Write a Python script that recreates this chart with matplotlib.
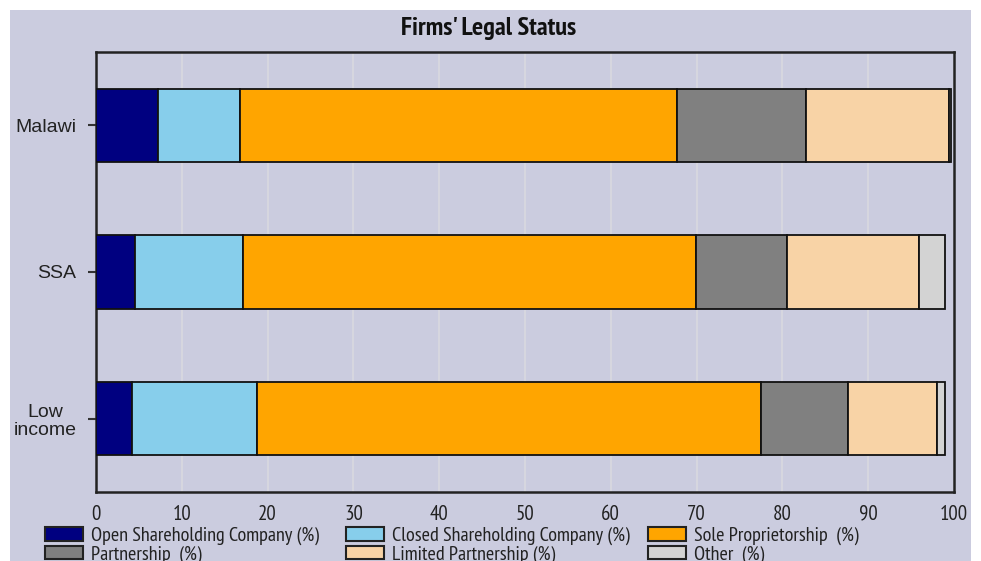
import matplotlib.pyplot as plt
import numpy as np
from matplotlib.patches import Rectangle, Patch

# Data (percent of firms)
regions = ["Low\nincome", "SSA", "Malawi"]
series_names = ["Open Shareholding Company (%)", "Partnership  (%)",
                "Closed Shareholding Company (%)", "Limited Partnership (%)",
                "Sole Proprietorship  (%)", "Other  (%)"]
open_share = [4.2, 4.5, 7.2]
closed_share = [14.6, 12.6, 9.6]
sole_prop = [58.7, 52.8, 50.9]
partnership = [10.1, 10.6, 15.0]
limited_part = [10.4, 15.4, 16.7]
other = [1.0, 3.1, 0.3]

colors = ["#000080", "#87CEEB", "#FFA500", "#808080", "#F8D3A6", "#D3D3D3"]
bg = "#CBCCDF"
narrow = ["PT Sans Narrow", "DejaVu Sans"]
regular = ["Liberation Sans", "DejaVu Sans"]

fig = plt.figure(figsize=(9.81, 5.61), dpi=100)
fig.patch.set_facecolor("white")
# lavender panel that leaves a white margin at top and left/right
fig.patches.append(Rectangle((10 / 981, 0), 961 / 981, 551 / 561, transform=fig.transFigure,
                             facecolor=bg, edgecolor="none", zorder=-10))

ax = fig.add_axes([96 / 981, 1 - 492 / 561, 858 / 981, 440 / 561])
ax.set_facecolor(bg)

stacks = [open_share, closed_share, sole_prop, partnership, limited_part, other]
y = np.arange(len(regions))
left = np.zeros(len(regions))
for vals, col in zip(stacks, colors):
    ax.barh(y, vals, left=left, height=0.5, color=col, edgecolor="#111111", linewidth=1.3, zorder=3)
    left += np.array(vals)

ax.set_xlim(0, 100)
ax.set_ylim(-0.5, 2.5)
ax.set_xticks(np.arange(0, 101, 10))
ax.set_yticks(y)
ax.set_yticklabels(regions, family=regular, fontsize=14, color="#222222", linespacing=1.1)
for lab in ax.get_yticklabels():
    lab.set_multialignment("center")
for lab in ax.get_xticklabels():
    lab.set_family(narrow)
    lab.set_fontsize(15)
    lab.set_color("#222222")
ax.tick_params(axis="x", length=0, pad=9)
ax.tick_params(axis="y", length=6, width=1.5, color="#333333", pad=8)
ax.grid(axis="x", color="#D9D9DF", linewidth=1.2, zorder=0)
ax.set_axisbelow(True)
for sp in ax.spines.values():
    sp.set_color("#222222")
    sp.set_linewidth(1.8)

fig.text(489 / 981, 1 - 28 / 561, "Firms' Legal Status", ha="center", va="center",
         family=narrow, fontweight="bold", fontsize=19, color="#111111")

# legend as three columns of two entries each
col_x = [45, 346, 648]
col_colors = [(colors[0], colors[3]), (colors[1], colors[4]), (colors[2], colors[5])]
for i, x in enumerate(col_x):
    handles = [Patch(facecolor=c, edgecolor="#222222", linewidth=1.5) for c in col_colors[i]]
    leg = fig.legend(handles, series_names[2 * i:2 * i + 2], loc="upper left",
                     bbox_to_anchor=(x / 981, 1 - 527 / 561), frameon=False,
                     prop={"family": narrow, "size": 14.5}, handlelength=1.9, handleheight=0.65,
                     handletextpad=0.4, labelspacing=0.0, borderpad=0, borderaxespad=0)
    for t in leg.get_texts():
        t.set_color("#222222")

fig.savefig("out.png", dpi=100, facecolor=fig.get_facecolor())
